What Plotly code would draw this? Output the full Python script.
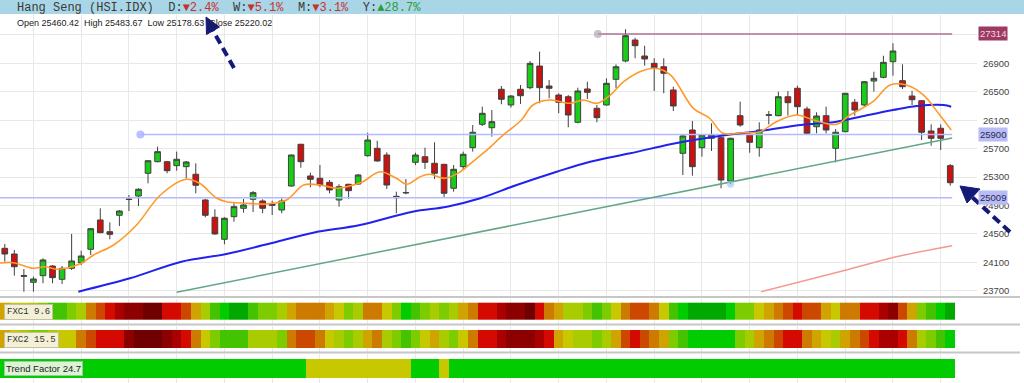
import plotly.graph_objects as go

# ---------------- data ----------------
opens = [24297, 24217, 23915, 23819, 23912, 24048, 23861, 24016, 24095, 24283,
         24696, 24531, 24762, 24990, 25033, 25353, 25516, 25516, 25460, 25446,
         25339, 24977, 24734, 24424, 24742, 24860, 24987, 24963, 24921, 24836,
         25174, 25761, 25315, 25282, 25226, 24977, 25198, 25202, 25600, 25704,
         25610, 25029, 25083, 25507, 25586, 25493, 25479, 25142, 25446, 25713,
         26042, 25994, 26535, 26314, 26535, 26557, 26862, 26581, 26454, 26430,
         26070, 26539, 26267, 26314, 26675, 26933, 27228, 27003, 26900, 26852,
         26525, 25634, 25962, 25713, 25845, 25854, 25244, 26163, 25892, 25713,
         26176, 26163, 26430, 26549, 26257, 26008, 26163, 25704, 25938, 26352,
         26314, 26651, 26703, 26923, 26656, 26440, 26374, 25948, 25986, 25460.42]
highs = [24358, 24273, 24006, 23898, 24157, 24060, 24048, 24499, 24264, 24580,
         24860, 24663, 24836, 25047, 25142, 25535, 25727, 25525, 25657, 25526,
         25493, 24991, 24846, 24734, 24931, 24991, 25104, 24987, 24967, 25001,
         25615, 25766, 25361, 25469, 25258, 25198, 25205, 25343, 25924, 25811,
         25648, 25094, 25272, 25642, 25713, 25789, 25485, 25469, 25657, 26032,
         26290, 26243, 26581, 26454, 26595, 26933, 27064, 26665, 26478, 26454,
         26557, 26641, 26314, 26689, 26886, 27380, 27260, 27148, 26971, 26971,
         26571, 25892, 26089, 25901, 26056, 25860, 25854, 26360, 25938, 26070,
         26229, 26501, 26511, 26585, 26290, 26211, 26290, 25976, 26485, 26398,
         26651, 26782, 27007, 27182, 26886, 26515, 26384, 26042, 26042, 25483.67]
lows = [24109, 23912, 23687, 23687, 23805, 23805, 23795, 23992, 24062, 24203,
        24510, 24424, 24611, 24822, 24893, 25212, 25507, 25353, 25389, 25282,
        25071, 24734, 24490, 24354, 24672, 24798, 24808, 24790, 24766, 24790,
        25164, 25431, 25156, 25156, 25071, 24883, 24991, 25188, 25586, 25516,
        25132, 24790, 25057, 25469, 25413, 25272, 25009, 25094, 25399, 25657,
        26018, 25868, 26324, 26276, 26328, 26535, 26338, 26408, 26197, 26000,
        26056, 26398, 26070, 26305, 26549, 26914, 26971, 26867, 26511, 26478,
        26229, 25329, 25319, 25586, 25666, 25142, 25198, 26008, 25642, 25586,
        26042, 26155, 26163, 26173, 25901, 25915, 25915, 25507, 25930, 26163,
        26290, 26501, 26689, 26726, 26539, 26314, 25821, 25741, 25680, 25178.63]
closes = [24217, 24038, 23905, 23865, 24133, 23884, 24016, 24119, 24189, 24573,
          24517, 24494, 24822, 24985, 25128, 25530, 25657, 25389, 25550, 25512,
          25184, 24762, 24499, 24720, 24883, 24907, 25080, 24860, 24902, 24963,
          25610, 25516, 25268, 25188, 25118, 25164, 25108, 25329, 25821, 25526,
          25188, 25009, 25078, 25610, 25507, 25353, 25071, 25409, 25620, 25930,
          26197, 26079, 26394, 26440, 26444, 26900, 26557, 26549, 26352, 26173,
          26511, 26492, 26135, 26619, 26852, 27289, 27148, 26961, 26838, 26760,
          26300, 25878, 25446, 25892, 25892, 25258, 25845, 26032, 25789, 25962,
          26170, 26430, 26346, 26290, 25915, 26159, 25962, 25930, 26478, 26243,
          26641, 26689, 26914, 27073, 26571, 26388, 25930, 25845, 25845, 25220.02]

# fast moving average (orange) read at candle positions
ma_fast_idx = [-0.5, 0.9, 3, 4.2, 5.6, 8, 9.3, 11.4, 13.8, 16.3, 19, 20.4, 22.2, 23.2,
               25.3, 27.4, 29.5, 31.3, 33, 34.8, 36.1, 37.5, 39.3, 41, 42.1, 43.5,
               44.5, 46.1, 47.7, 49, 50.5, 52.2, 54.1, 55.3, 57.1, 59.2, 60.6, 62,
               63.4, 64.8, 66.5, 68.1, 69.7, 72.1, 73.8, 75.2, 77.3, 79.1, 80.8,
               82.9, 84.7, 87.1, 88.5, 90.9, 92.7, 94.4, 96.2, 97.9, 99.1]
ma_fast_val = [24091, 24095, 24016, 24038, 24002, 24086, 24203, 24344, 24625, 25047,
               25268, 25212, 25001, 24953, 24931, 24921, 24977, 25188, 25188, 25142,
               25174, 25235, 25375, 25282, 25198, 25305, 25339, 25282, 25375, 25516,
               25681, 25892, 26103, 26314, 26384, 26338, 26384, 26338, 26454, 26641,
               26782, 26830, 26736, 26267, 26127, 25916, 25924, 25938, 26079, 26173,
               26103, 26042, 26173, 26360, 26595, 26595, 26454, 26173, 25962]
# slow moving average (blue)
ma_slow_idx = [7.7, 13.1, 18.5, 23.2, 28.5, 32.3, 37.2, 42.7, 46.3, 49.8, 53.6, 57.8,
               61.3, 65.5, 69.7, 72.1, 75.6, 79.1, 83.3, 87.1, 89.6, 93, 95.5, 98.3, 99.1]
ma_slow_val = [23687, 23875, 24109, 24217, 24390, 24517, 24625, 24813, 24883, 25001,
               25188, 25375, 25516, 25634, 25761, 25821, 25892, 25948, 26032, 26079,
               26149, 26243, 26300, 26314, 26290]
# long moving average (salmon)
ma_long_idx = [79.2, 87.8, 93.7, 99.2]
ma_long_val = [23686, 23982, 24189, 24334]
# support trend line (green)
trend_idx = [18, 99.2]
trend_val = [23680, 25850]
# horizontal levels
levels = [27314, 25900, 25009]
level_start = [62.1, 14.2, -0.5]
level_end = 99.2

y_ticks = [23700, 24100, 24500, 24900, 25300, 25700, 26100, 26500, 26900, 27300]
y_ticktext = ['23700', '24100', '24500', '24900', '25300', '25700', '26100', '26500', '26900', '']
x_grid = [3, 8, 13, 18, 23, 28, 33, 38, 43, 48, 53, 58, 63, 68, 73, 78, 83, 88, 93, 98]

# indicator strips (colour level 0 = dark green ... 12 = maroon)
fxc1 = [6, 5, 5, 4, 3, 2, 2, 3, 4, 7, 8, 9, 10, 11, 11, 12, 12, 9, 9, 8,
        6, 4, 2, 1, 0, 0, 2, 3, 3, 4, 6, 7, 7, 7, 6, 5, 3, 4, 7, 7,
        5, 3, 1, 2, 3, 4, 3, 4, 6, 7, 9, 9, 10, 11, 11, 12, 9, 7, 6, 4,
        4, 3, 2, 3, 5, 7, 8, 8, 7, 5, 2, 1, 0, 0, 0, 0, 1, 3, 3, 5,
        6, 7, 8, 9, 8, 8, 6, 5, 7, 7, 9, 9, 10, 11, 8, 6, 3, 2, 1, 0]
fxc2 = [6, 5, 4, 3, 3, 4, 5, 5, 7, 8, 9, 9, 9, 11, 12, 12, 12, 11, 10, 9,
        7, 5, 3, 2, 2, 2, 4, 4, 4, 3, 7, 8, 8, 7, 5, 4, 3, 4, 6, 7,
        4, 3, 2, 3, 5, 6, 4, 3, 5, 7, 9, 9, 10, 11, 11, 11, 10, 9, 6, 5,
        4, 4, 3, 4, 6, 8, 9, 8, 7, 6, 3, 2, 1, 1, 1, 1, 1, 3, 4, 6,
        7, 8, 9, 9, 7, 6, 5, 4, 6, 7, 8, 9, 10, 10, 9, 7, 4, 3, 2, 1]
trend_factor = [1] * 32 + [5] * 11 + [1] * 3 + [5] + [1] * 53

strip_colors = ['#00a800', '#00cc00', '#44c400', '#7ccc00', '#a8cc00', '#c8c800',
                '#d0a400', '#cc7a00', '#cc4800', '#d40a00', '#aa0000', '#8c0000', '#700000']

W, H = 1024, 383
def px(x):
    return x / W
def py(y):
    return 1 - y / H

x_end = 101.8
grid_col = '#e8e8e8'
fig = go.Figure()

# horizontal level lines
fig.add_trace(go.Scatter(x=[level_start[0], level_end], y=[levels[0]] * 2, mode='lines',
                         line=dict(color='#b07090', width=1.5), hoverinfo='skip'))
fig.add_trace(go.Scatter(x=[level_start[1], level_end], y=[levels[1]] * 2, mode='lines',
                         line=dict(color='#b4baff', width=1.5), hoverinfo='skip'))
fig.add_trace(go.Scatter(x=[level_start[2], level_end], y=[levels[2]] * 2, mode='lines',
                         line=dict(color='#b4baff', width=1.5), hoverinfo='skip'))
fig.add_trace(go.Scatter(x=[level_start[0]], y=[levels[0]], mode='markers',
                         marker=dict(color='rgba(175,160,170,0.65)', size=8), hoverinfo='skip'))
fig.add_trace(go.Scatter(x=[level_start[1]], y=[levels[1]], mode='markers',
                         marker=dict(color='rgba(170,178,255,0.8)', size=8), hoverinfo='skip'))

# trend + MAs
fig.add_trace(go.Scatter(x=trend_idx, y=trend_val, mode='lines',
                         line=dict(color='#62a886', width=1.5), hoverinfo='skip'))
fig.add_trace(go.Scatter(x=[76], y=[lows[76]], mode='markers',
                         marker=dict(color='rgba(150,200,235,0.6)', size=7), hoverinfo='skip'))
fig.add_trace(go.Scatter(x=ma_long_idx, y=ma_long_val, mode='lines', line_shape='spline',
                         line=dict(color='#f29a92', width=1.5), hoverinfo='skip'))
fig.add_trace(go.Scatter(x=ma_slow_idx, y=ma_slow_val, mode='lines', line_shape='spline',
                         line=dict(color='#2222ee', width=2), hoverinfo='skip'))
fig.add_trace(go.Scatter(x=ma_fast_idx, y=ma_fast_val, mode='lines', line_shape='spline',
                         line=dict(color='#ff9a2a', width=1.6), hoverinfo='skip'))

fig.add_trace(go.Candlestick(
    x=list(range(len(opens))), open=opens, high=highs, low=lows, close=closes,
    increasing=dict(fillcolor='#18cc18', line=dict(color='#404040', width=1)),
    decreasing=dict(fillcolor='#cc1111', line=dict(color='#404040', width=1)),
    whiskerwidth=0, hoverinfo='skip'))

# strips
for k, (vals, name) in enumerate([(fxc1, 'x2'), (fxc2, 'x3'), (trend_factor, 'x4')]):
    fig.add_trace(go.Heatmap(z=[vals], x=list(range(len(vals))), y=[0], xaxis=name,
                             yaxis='y' + name[1:], zmin=0, zmax=12,
                             colorscale=[[i / 12, c] for i, c in enumerate(strip_colors)],
                             showscale=False, hoverinfo='skip'))

xcommon = dict(range=[-0.5, x_end], domain=[0, px(977)], tickvals=x_grid, showticklabels=False,
               showgrid=True, gridcolor=grid_col, gridwidth=1, zeroline=False, ticks='',
               showline=False, fixedrange=True)
fig.update_layout(
    width=W, height=H, margin=dict(l=0, r=0, t=0, b=0), boxgap=0.15,
    paper_bgcolor='white', plot_bgcolor='white', showlegend=False,
    xaxis=dict(**xcommon, anchor='y', rangeslider=dict(visible=False)),
    xaxis2=dict(**xcommon, anchor='y2'),
    xaxis3=dict(**xcommon, anchor='y3'),
    xaxis4=dict(**xcommon, anchor='y4'),
    yaxis=dict(domain=[py(297), py(15)], range=[23612, 27580], side='right', anchor='x',
               tickvals=y_ticks, ticktext=y_ticktext, showgrid=True,
               gridcolor=grid_col, zeroline=False, ticks='outside', ticklen=3,
               tickcolor='rgba(0,0,0,0)', automargin=False,
               tickfont=dict(family='Liberation Sans', size=9.5, color='#444444')),
    yaxis2=dict(domain=[py(324), py(299)], range=[-0.783, 0.723], visible=False, anchor='x2'),
    yaxis3=dict(domain=[py(352), py(326)], range=[-0.702, 0.719], visible=False, anchor='x3'),
    yaxis4=dict(domain=[py(383), py(354)], range=[-0.744, 0.759], visible=False, anchor='x4'),
)

shapes = []
# header band
shapes.append(dict(type='rect', xref='paper', yref='paper', x0=0, x1=1, y0=py(14), y1=1,
                   fillcolor='#a8d6e6', line=dict(width=0), layer='below'))
# separators
for yy in [297, 324.5, 352.5]:
    shapes.append(dict(type='line', xref='paper', yref='paper', x0=0, x1=px(1020), y0=py(yy), y1=py(yy),
                       line=dict(color='#c6c6c6', width=2)))
# arrows (dashed shaft + head)
navy = '#141a78'
shapes.append(dict(type='line', xref='paper', yref='paper', x0=px(234), y0=py(68), x1=px(212.8), y1=py(30.2),
                   line=dict(color=navy, width=4, dash='9px,5px')))
shapes.append(dict(type='path', xref='paper', yref='paper', fillcolor=navy, line=dict(color=navy, width=1),
                   path=f'M {px(206)} {py(17)} L {px(219.5)} {py(27)} L {px(206.5)} {py(34.5)} Z'))
shapes.append(dict(type='line', xref='paper', yref='paper', x0=px(1010), y0=py(232), x1=px(971.8), y1=py(196.8),
                   line=dict(color=navy, width=4, dash='9px,5px')))
shapes.append(dict(type='path', xref='paper', yref='paper', fillcolor=navy, line=dict(color=navy, width=1),
                   path=f'M {px(960)} {py(186)} L {px(980)} {py(189)} L {px(967)} {py(203)} Z'))
fig.update_layout(shapes=shapes)

ann = []
nb = '\u00a0\u00a0'
hdr = ('Hang Seng (HSI.IDX)' + nb +
       'D:<span style="color:#c83030">▼2.4%</span>' + nb +
       'W:<span style="color:#c83030">▼5.1%</span>' + nb +
       'M:<span style="color:#c83030">▼3.1%</span>' + nb +
       'Y:<span style="color:#2e9a3a">▲28.7%</span>')
ann.append(dict(xref='paper', yref='paper', x=px(15), y=py(7.5), xanchor='left', yanchor='middle',
                text=hdr, showarrow=False, font=dict(family='Liberation Mono', size=12, color='#3a3a3a')))
ohlc = (f'Open {opens[-1]:.2f}' + nb + f'High {highs[-1]:.2f}' + nb +
        f'Low {lows[-1]:.2f}' + nb + f'Close {closes[-1]:.2f}')
ann.append(dict(xref='paper', yref='paper', x=px(15), y=py(23), xanchor='left', yanchor='middle',
                text=ohlc, showarrow=False, font=dict(family='Liberation Sans', size=9, color='#222222')))
# price badges
badge_style = [('#9c3a62', '#f3d6e4'), ('#b8bcf6', '#2a2a50'), ('#b8bcf6', '#2a2a50')]
for lv, (bg, fc) in zip(levels, badge_style):
    ann.append(dict(xref='paper', yref='y', x=px(978), y=lv, xanchor='left', yanchor='middle',
                    text=str(lv), showarrow=False, bgcolor=bg, borderpad=1,
                    font=dict(family='Liberation Sans', size=9.5, color=fc)))
# strip labels
ann.append(dict(xref='paper', yref='paper', x=px(3.5), y=py(312), xanchor='left', yanchor='middle',
                text='FXC1 9.6', showarrow=False, bgcolor='#f3f0d6', bordercolor='#c4c0a0', borderwidth=1,
                borderpad=2, font=dict(family='Liberation Mono', size=9, color='#333333')))
ann.append(dict(xref='paper', yref='paper', x=px(3.5), y=py(339.5), xanchor='left', yanchor='middle',
                text='FXC2 15.5', showarrow=False, bgcolor='#f3f0d6', bordercolor='#c4c0a0', borderwidth=1,
                borderpad=2, font=dict(family='Liberation Mono', size=9, color='#333333')))
ann.append(dict(xref='paper', yref='paper', x=px(3.5), y=py(368.5), xanchor='left', yanchor='middle',
                text='Trend Factor 24.7', showarrow=False, bgcolor='#dcf4d4', bordercolor='#a0c8a0', borderwidth=1,
                borderpad=1, font=dict(family='Liberation Sans', size=9.5, color='#222222')))
fig.update_layout(annotations=ann)

fig.write_html('out.html')
